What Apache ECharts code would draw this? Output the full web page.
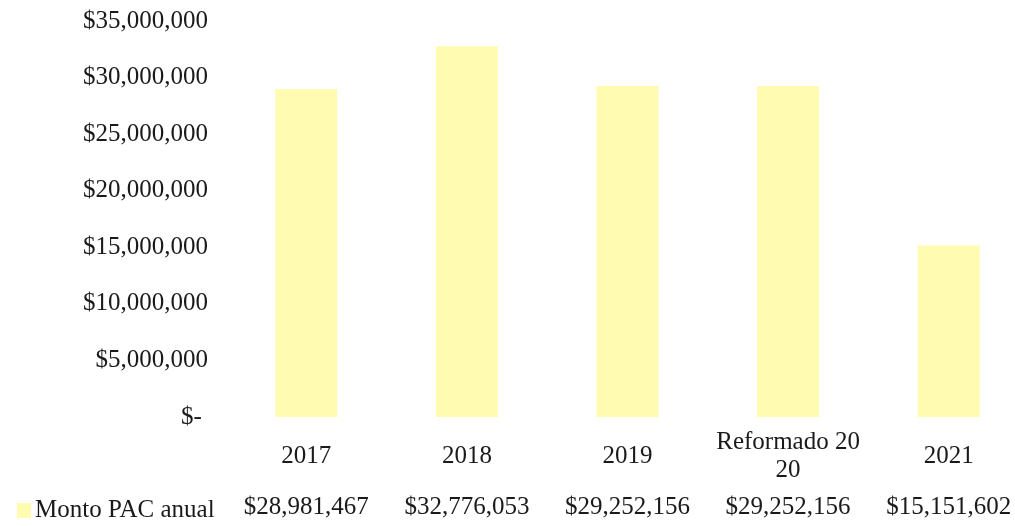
<!DOCTYPE html>
<html>
<head>
<meta charset="utf-8">
<script src="https://cdn.jsdelivr.net/npm/echarts@6/dist/echarts.min.js"></script>
<style>
  html, body { margin: 0; padding: 0; background: #fff; }
  #chart { width: 1015px; height: 526px; }
</style>
</head>
<body>
<div id="chart"></div>
<script>
// datos
const categories = ['2017', '2018', '2019', 'Reformado 20\n20', '2021'];
const montoPAC = [28981467, 32776053, 29252156, 29252156, 15151602];
const seriesName = 'Monto PAC anual';

const serif = "'Liberation Serif', 'Times New Roman', serif";
const fmtMoney = v => '$' + v.toLocaleString('en-US');

window.onload = () => {
    let chart = echarts.init(document.getElementById('chart'));
    let option = {
        animation: false,
        backgroundColor: '#fff',
        legend: {
            data: [seriesName],
            left: 12,
            top: 493,
            icon: 'rect',
            itemWidth: 14,
            itemHeight: 15,
            itemGap: 0,
            textStyle: { fontFamily: serif, fontSize: 25, color: '#1a1a1a', padding: [0, 0, 0, -1] }
        },
        grid: { left: 226, top: 21, width: 803, height: 396, outerBoundsMode: 'none' },
        xAxis: [{
            type: 'category',
            data: categories,
            axisLine: { show: false },
            axisTick: { show: false },
            axisLabel: {
                fontFamily: serif, fontSize: 25, color: '#1a1a1a',
                lineHeight: 28, verticalAlign: 'middle', margin: 39,
                interval: 0
            }
        }, {
            // fila de la tabla de datos
            type: 'category',
            position: 'bottom',
            data: categories,
            axisLine: { show: false },
            axisTick: { show: false },
            axisLabel: {
                fontFamily: serif, fontSize: 25, color: '#1a1a1a',
                verticalAlign: 'middle', margin: 90, interval: 0,
                formatter: (v, i) => fmtMoney(montoPAC[i])
            }
        }],
        yAxis: {
            type: 'value',
            min: 0,
            max: 35000000,
            interval: 5000000,
            splitLine: { show: false },
            axisLine: { show: false },
            axisLabel: {
                fontFamily: serif, fontSize: 25, color: '#1a1a1a', margin: 18,
                formatter: v => v === 0 ? '$- ' : fmtMoney(v)
            }
        },
        series: [{
            name: seriesName,
            type: 'bar',
            data: montoPAC,
            barWidth: 62,
            itemStyle: { color: '#fffcb2' }
        }]
    };
    chart.setOption(option);
};
</script>
</body>
</html>
